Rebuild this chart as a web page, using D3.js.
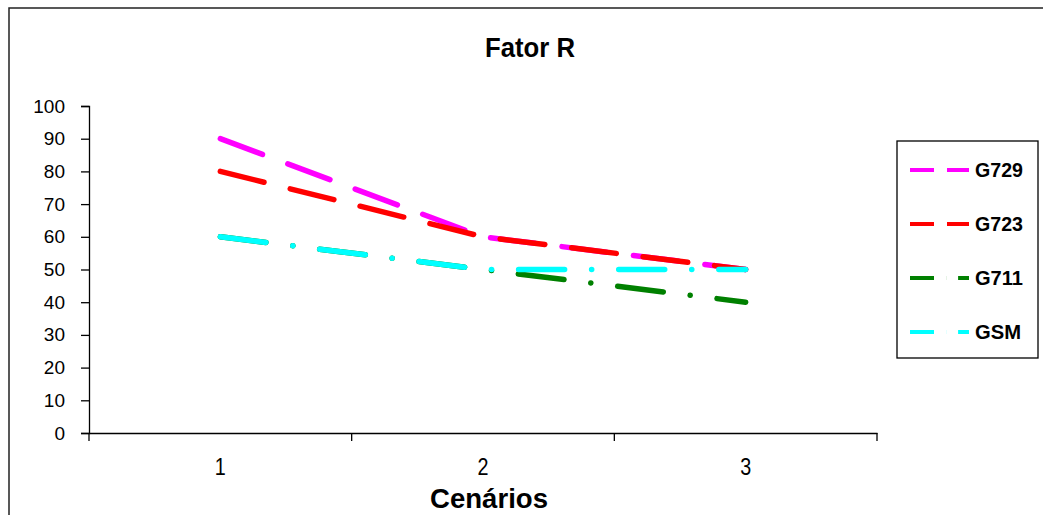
<!DOCTYPE html>
<html><head><meta charset="utf-8">
<script src="https://cdn.jsdelivr.net/npm/d3@7"></script>
<style>body{margin:0;background:#fff}svg{display:block}text{font-family:"Liberation Sans",Arial,sans-serif}</style>
</head><body><svg id="c" width="1043" height="515"></svg>
<script>
const categories = ["1","2","3"];
const seriesNames = ["G729","G723","G711","GSM"];
const g729 = [90,60,50];
const g723 = [80,60,50];
const g711 = [60,50,40];
const gsm  = [60,50,50];
const yTicks = [0,10,20,30,40,50,60,70,80,90,100];
const colors = ["#FF00FF","#FF0000","#008000","#00FFFF"];
const dashes = ["45,27","45,27","46,27,0.1,27","46,27,0.1,27"];
const legDashes = ["24,13","24,13","24,12,0.1,12","24,12,0.1,12"];
const values = [g729,g723,g711,gsm];

const svg = d3.select("#c");
svg.append("rect").attr("x",9).attr("y",8).attr("width",1100).attr("height",600)
  .attr("fill","none").attr("stroke","#222").attr("stroke-width",1.5);

const x = d3.scaleBand().domain(categories).range([89,877]);
const y = d3.scaleLinear().domain([0,100]).range([433,106]);

svg.append("text").attr("x",530).attr("y",57).attr("text-anchor","middle")
  .attr("font-size",27).attr("font-weight","bold").attr("textLength",90)
  .attr("lengthAdjust","spacingAndGlyphs").text("Fator R");

const ya = svg.append("g").attr("transform","translate(89,0)")
  .call(d3.axisLeft(y).tickValues(yTicks).tickSize(8).tickPadding(16));
ya.selectAll("path,line").attr("stroke","#000").attr("stroke-width",1.3);
ya.selectAll("text").attr("font-size",19).attr("fill","#000")
  .attr("font-family","Liberation Sans, Arial, sans-serif");

const xa = svg.append("g").attr("transform","translate(0,433)")
  .call(d3.axisBottom(x).tickSize(0).tickPadding(0));
xa.select("path").attr("stroke","#000").attr("stroke-width",1.3);
xa.selectAll("text").attr("font-size",24).attr("fill","#000").attr("dy","1.75em")
  .attr("font-family","Liberation Sans, Arial, sans-serif")
  .attr("textLength",11).attr("lengthAdjust","spacingAndGlyphs");
const bounds = categories.map(c=>x(c)).concat([x.range()[1]]);
svg.append("g").selectAll("line").data(bounds).join("line")
  .attr("x1",d=>d).attr("x2",d=>d).attr("y1",433).attr("y2",441)
  .attr("stroke","#000").attr("stroke-width",1.3);

svg.append("text").attr("x",489).attr("y",508).attr("text-anchor","middle")
  .attr("font-size",28).attr("font-weight","bold").attr("textLength",118)
  .attr("lengthAdjust","spacingAndGlyphs").text("Cenários");

const line = d3.line().x((d,i)=>x(categories[i])+x.bandwidth()/2).y(d=>y(d));
[0,1,2,3].forEach(k=>{
  svg.append("path").attr("d",line(values[k])).attr("fill","none")
    .attr("stroke",colors[k]).attr("stroke-width",5.5)
    .attr("stroke-linecap","round").attr("stroke-dasharray",dashes[k]);
});

svg.append("rect").attr("x",897).attr("y",141).attr("width",141).attr("height",217)
  .attr("fill","#fff").attr("stroke","#000").attr("stroke-width",1.3);
const ly = [170,224,278,332];
seriesNames.forEach((n,i)=>{
  svg.append("line").attr("x1",910).attr("x2",969).attr("y1",ly[i]).attr("y2",ly[i])
    .attr("stroke",colors[i]).attr("stroke-width",4).attr("stroke-dasharray",legDashes[i]);
  svg.append("text").attr("x",975).attr("y",ly[i]+7).attr("font-size",20)
    .attr("font-weight","bold").attr("textLength",n==="GSM"?46:48)
    .attr("lengthAdjust","spacingAndGlyphs").text(n);
});
</script></body></html>
